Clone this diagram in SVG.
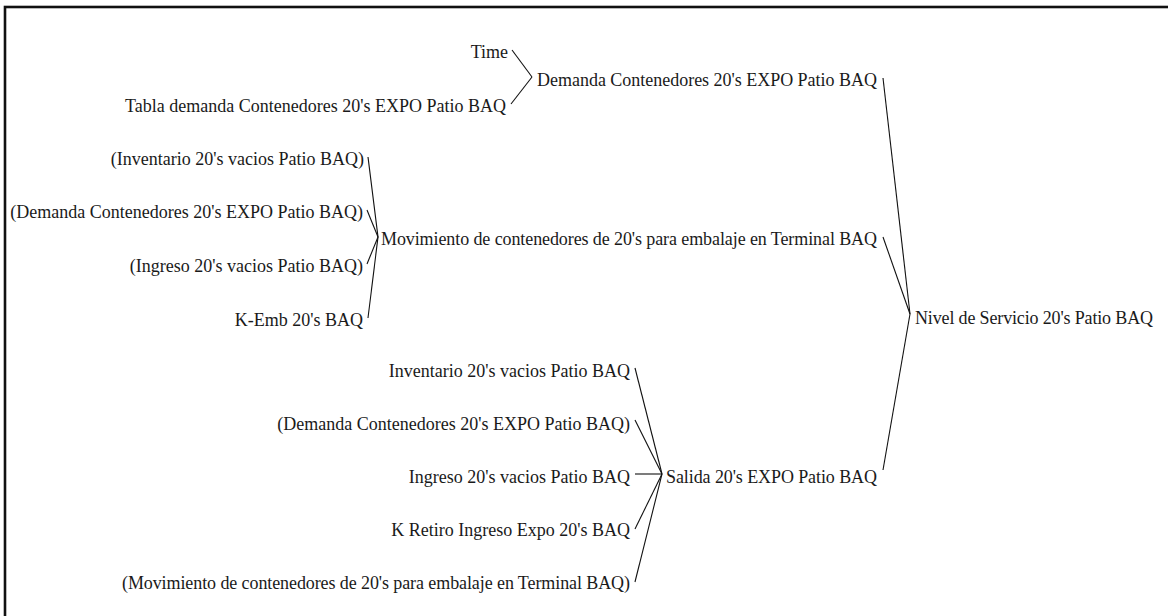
<svg xmlns="http://www.w3.org/2000/svg" width="1168" height="616" viewBox="0 0 1168 616">
  <style>
    .lbl { font-family: "Liberation Serif", "Times New Roman", serif; font-size: 18px; fill: #1a1a1a; }
    .cause { text-anchor: end; }
    .effect { text-anchor: start; }
    .link { stroke: #111; stroke-width: 1.1; fill: none; }
  </style>
  <rect x="0" y="0" width="1168" height="616" fill="#ffffff"/>
  <!-- outer frame, runs off the right and bottom edges -->
  <rect x="5" y="7" width="1175" height="625" fill="none" stroke="#111" stroke-width="2.6"/>

  <g id="connectors">
    <!-- into Demanda Contenedores -->
    <line class="link" x1="512" y1="50" x2="532" y2="77"/>
    <line class="link" x1="511" y1="104" x2="532" y2="77"/>
    <!-- into Movimiento -->
    <line class="link" x1="368" y1="157" x2="378" y2="237"/>
    <line class="link" x1="367" y1="210" x2="378" y2="237"/>
    <line class="link" x1="367" y1="264" x2="378" y2="237"/>
    <line class="link" x1="368" y1="318" x2="378" y2="237"/>
    <!-- into Salida -->
    <line class="link" x1="635" y1="368" x2="662" y2="474"/>
    <line class="link" x1="635" y1="420" x2="662" y2="474"/>
    <line class="link" x1="635" y1="474" x2="662" y2="474"/>
    <line class="link" x1="635" y1="529" x2="662" y2="474"/>
    <line class="link" x1="635" y1="582" x2="662" y2="474"/>
    <!-- into Nivel de Servicio -->
    <line class="link" x1="883" y1="78" x2="910" y2="314"/>
    <line class="link" x1="883" y1="237" x2="910" y2="314"/>
    <line class="link" x1="883" y1="470" x2="910" y2="314"/>
  </g>

  <g id="time"><text class="lbl cause" x="508" y="58">Time</text></g>
  <g id="tabla-demanda"><text class="lbl cause" x="506" y="112">Tabla demanda Contenedores 20's EXPO Patio BAQ</text></g>
  <g id="demanda-contenedores"><text class="lbl effect" x="537" y="86" textLength="340" lengthAdjust="spacing">Demanda Contenedores 20's EXPO Patio BAQ</text></g>

  <g id="inventario-shadow"><text class="lbl cause" x="364" y="165">(Inventario 20's vacios Patio BAQ)</text></g>
  <g id="demanda-shadow-1"><text class="lbl cause" x="363" y="218">(Demanda Contenedores 20's EXPO Patio BAQ)</text></g>
  <g id="ingreso-shadow"><text class="lbl cause" x="363" y="272">(Ingreso 20's vacios Patio BAQ)</text></g>
  <g id="k-emb"><text class="lbl cause" x="363" y="326">K-Emb 20's BAQ</text></g>
  <g id="movimiento"><text class="lbl effect" x="381" y="245" textLength="496" lengthAdjust="spacing">Movimiento de contenedores de 20's para embalaje en Terminal BAQ</text></g>

  <g id="nivel-servicio"><text class="lbl effect" x="915" y="324" textLength="238" lengthAdjust="spacing">Nivel de Servicio 20's Patio BAQ</text></g>

  <g id="inventario"><text class="lbl cause" x="630" y="377">Inventario 20's vacios Patio BAQ</text></g>
  <g id="demanda-shadow-2"><text class="lbl cause" x="630" y="430">(Demanda Contenedores 20's EXPO Patio BAQ)</text></g>
  <g id="ingreso"><text class="lbl cause" x="630" y="483">Ingreso 20's vacios Patio BAQ</text></g>
  <g id="k-retiro"><text class="lbl cause" x="630" y="536">K Retiro Ingreso Expo 20's BAQ</text></g>
  <g id="movimiento-shadow"><text class="lbl effect" x="122" y="589" textLength="508" lengthAdjust="spacing">(Movimiento de contenedores de 20's para embalaje en Terminal BAQ)</text></g>
  <g id="salida"><text class="lbl effect" x="666" y="483" textLength="211" lengthAdjust="spacing">Salida 20's EXPO Patio BAQ</text></g>
</svg>
